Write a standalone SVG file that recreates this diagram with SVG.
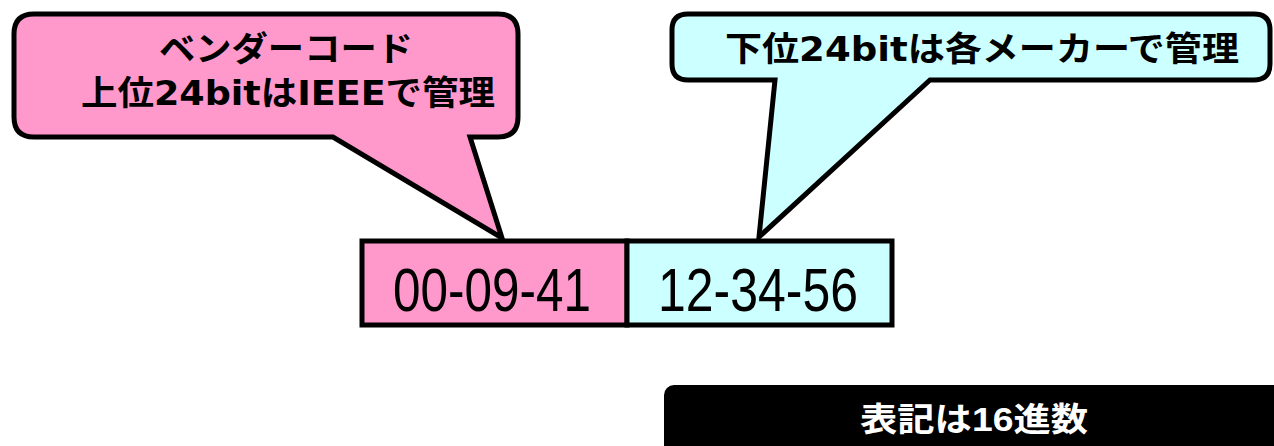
<svg xmlns="http://www.w3.org/2000/svg" width="1274" height="446" viewBox="0 0 1274 446">
<style>
.shape{stroke:#000;stroke-width:5;stroke-linejoin:miter}
.pink{fill:#FF99CC}
.cyan{fill:#CCFFFF}
.ct{font-family:"DejaVu Sans","Noto Sans CJK JP",sans-serif;font-weight:bold;font-size:34px;fill:#000;text-anchor:middle}
.num{font-family:"Liberation Sans",sans-serif;font-size:62px;fill:#000;text-anchor:middle}
.note{font-family:"Liberation Sans","Noto Sans CJK JP",sans-serif;font-weight:bold;font-size:33px;fill:#fff;text-anchor:middle}
</style>
<rect width="1274" height="446" fill="#fff"/>
<g id="vendor-callout">
<path class="shape pink" d="M34,14 H498 Q518,14 518,34 V117 Q518,137 498,137 H470 L502,238 L333,137 H34 Q14,137 14,117 V34 Q14,14 34,14 Z"/>
<text class="ct" x="286" y="61" textLength="254" lengthAdjust="spacingAndGlyphs">ベンダーコード</text>
<text class="ct" x="288" y="105" textLength="414" lengthAdjust="spacingAndGlyphs">上位24bitはIEEEで管理</text>
</g>
<g id="maker-callout">
<path class="shape cyan" d="M688,14 H1254 Q1270,14 1270,30 V64 Q1270,80 1254,80 H930 L759,237 L775,80 H688 Q672,80 672,64 V30 Q672,14 688,14 Z"/>
<text class="ct" x="982" y="61" textLength="514" lengthAdjust="spacingAndGlyphs">下位24bitは各メーカーで管理</text>
</g>
<g id="vendor-code">
<rect class="shape pink" x="362" y="241" width="265" height="84"/>
<text class="num" x="492" y="311" textLength="198" lengthAdjust="spacingAndGlyphs">00-09-41</text>
</g>
<g id="maker-code">
<rect class="shape cyan" x="627" y="241" width="265" height="84"/>
<text class="num" x="758" y="311" textLength="200" lengthAdjust="spacingAndGlyphs">12-34-56</text>
</g>
<g id="note">
<rect x="664" y="385" width="630" height="80" rx="10" fill="#000"/>
<text class="note" x="974" y="431" textLength="228" lengthAdjust="spacingAndGlyphs">表記は16進数</text>
</g>
<g id="connectors"/>
</svg>
